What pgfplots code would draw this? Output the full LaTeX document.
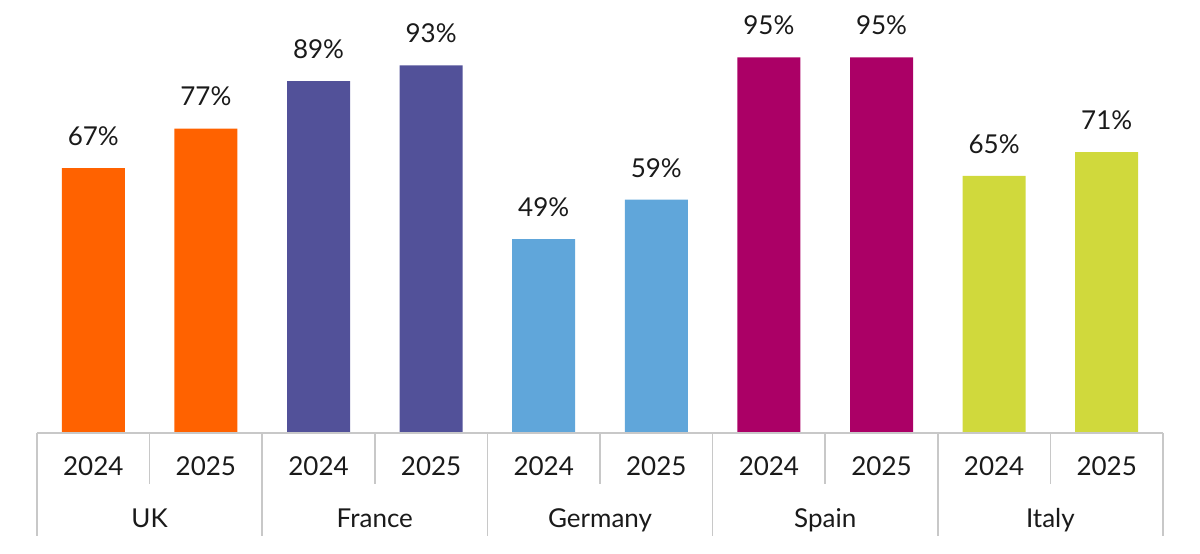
\documentclass[border=0pt]{standalone}
\usepackage{fontspec}
\setmainfont{Lato}
\usepackage{pgfplots}
\pgfplotsset{compat=1.18}
\definecolor{ukc}{HTML}{FF6200}
\definecolor{frc}{HTML}{525199}
\definecolor{dec}{HTML}{60A6DA}
\definecolor{esc}{HTML}{AB0066}
\definecolor{itc}{HTML}{D0D93C}
\definecolor{gridc}{HTML}{C8C8C8}
\definecolor{txt}{HTML}{1A1A1A}
\begin{document}
\fontsize{13pt}{15pt}\selectfont
\begin{tikzpicture}
\begin{axis}[
  scale only axis, width=563pt, height=216.5pt,
  xmin=-0.5, xmax=9.5, ymin=0, ymax=109.5,
  /pgf/number format/assume math mode=true,
  axis line style={draw=none}, ytick=\empty,
  xtick={0,...,9},
  xticklabels={2024,2025,2024,2025,2024,2025,2024,2025,2024,2025},
  major tick length=0pt,
  xticklabel style={anchor=base, yshift=-21.25pt, text=txt},
  extra x ticks={0.5,2.5,4.5,6.5,8.5},
  extra x tick labels={UK,France,Germany,Spain,Italy},
  extra x tick style={tick label style={anchor=base, yshift=-25.75pt, text=txt}},
  ybar, bar width=31.5pt, bar shift=0pt,
  nodes near coords={\pgfmathprintnumber{\pgfplotspointmeta}\%},
  every node near coord/.append style={anchor=south, inner sep=0pt, yshift=11pt, text=txt},
  clip=false,
]
\addplot[fill=ukc, draw=none] coordinates {(0,67) (1,77)};
\addplot[fill=frc, draw=none] coordinates {(2,89) (3,93)};
\addplot[fill=dec, draw=none] coordinates {(4,49) (5,59)};
\addplot[fill=esc, draw=none] coordinates {(6,95) (7,95)};
\addplot[fill=itc, draw=none] coordinates {(8,65) (9,71)};
\draw[gridc, line width=0.8pt] (axis cs:-0.5,0) -- (axis cs:9.5,0);
\draw[gridc, line width=0.8pt] (axis cs:-0.5,0) -- ++(0pt,-51.5pt);
\draw[gridc, line width=0.8pt] (axis cs:1.5,0) -- ++(0pt,-51.5pt);
\draw[gridc, line width=0.8pt] (axis cs:3.5,0) -- ++(0pt,-51.5pt);
\draw[gridc, line width=0.8pt] (axis cs:5.5,0) -- ++(0pt,-51.5pt);
\draw[gridc, line width=0.8pt] (axis cs:7.5,0) -- ++(0pt,-51.5pt);
\draw[gridc, line width=0.8pt] (axis cs:9.5,0) -- ++(0pt,-51.5pt);
\draw[gridc, line width=0.8pt] (axis cs:0.5,0) -- ++(0pt,-25.5pt);
\draw[gridc, line width=0.8pt] (axis cs:2.5,0) -- ++(0pt,-25.5pt);
\draw[gridc, line width=0.8pt] (axis cs:4.5,0) -- ++(0pt,-25.5pt);
\draw[gridc, line width=0.8pt] (axis cs:6.5,0) -- ++(0pt,-25.5pt);
\draw[gridc, line width=0.8pt] (axis cs:8.5,0) -- ++(0pt,-25.5pt);
\end{axis}
\pgfresetboundingbox
\path (-18.5pt,-60pt) rectangle (581.5pt,216.5pt);
\end{tikzpicture}
\end{document}
